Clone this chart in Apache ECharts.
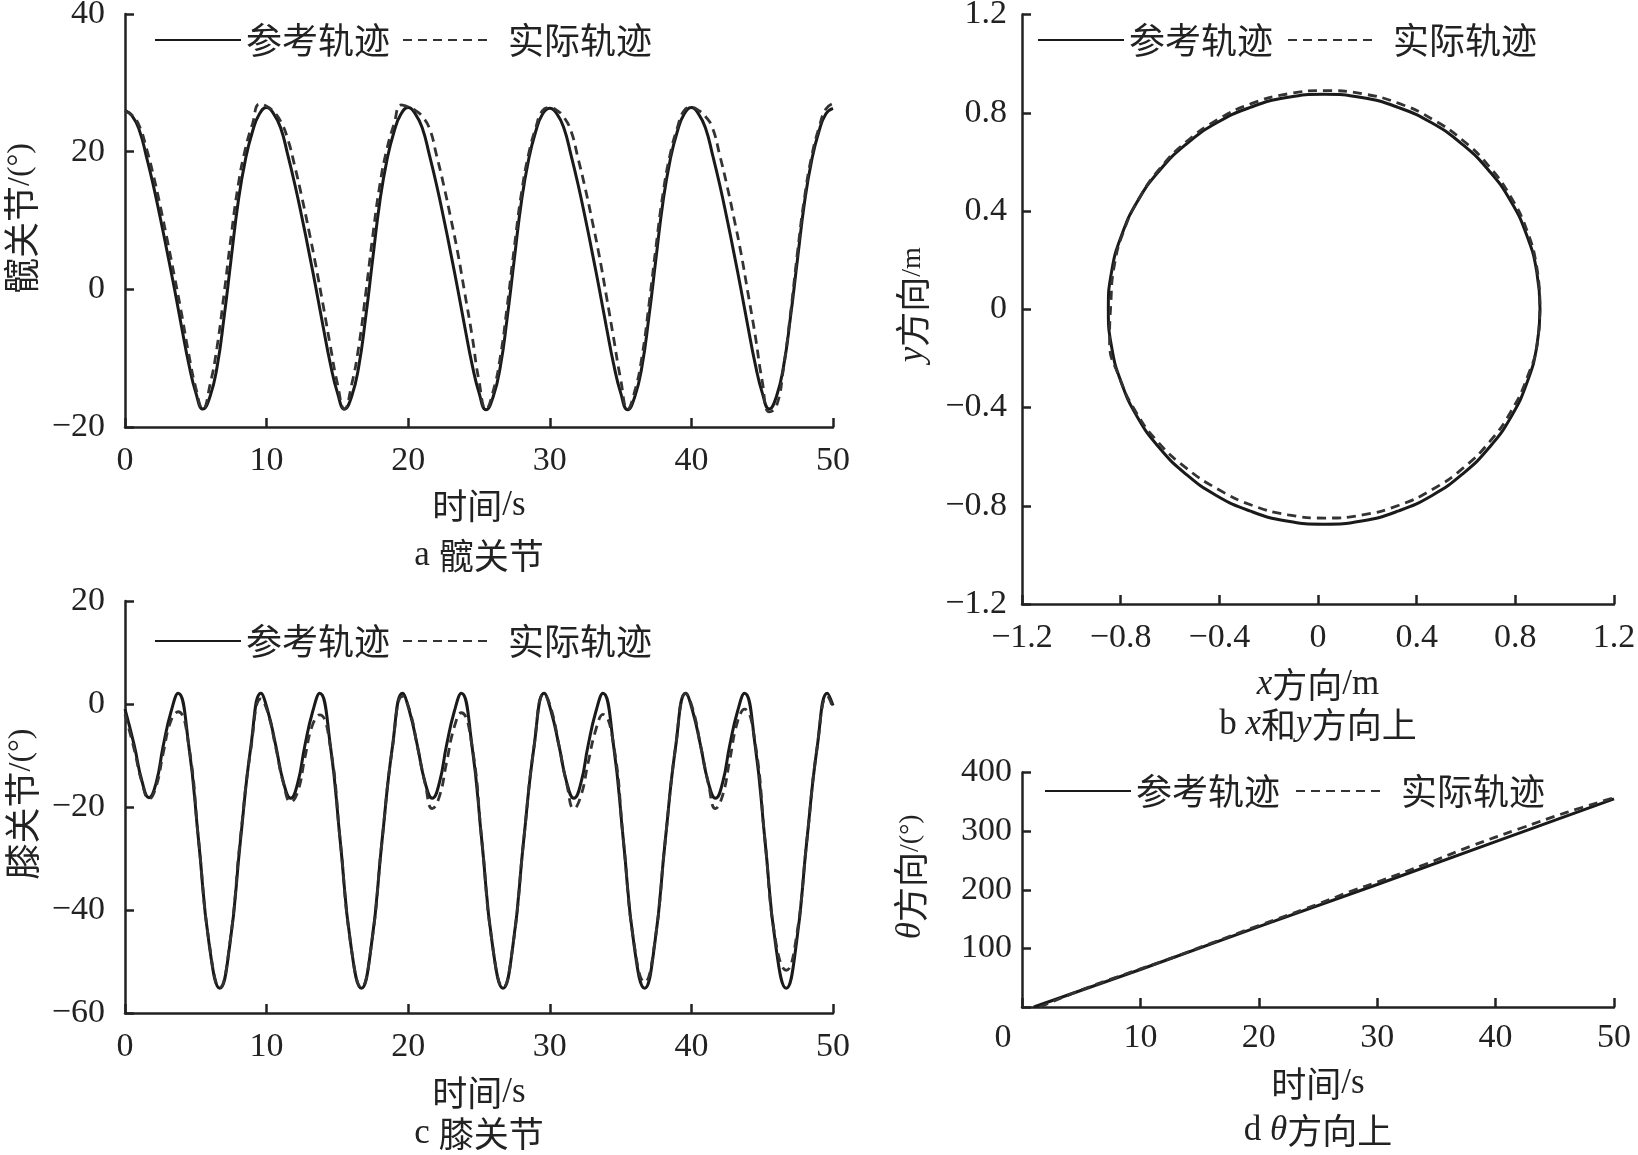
<!DOCTYPE html>
<html>
<head>
<meta charset="utf-8">
<script src="https://cdn.jsdelivr.net/npm/echarts@6/dist/echarts.min.js"></script>
<style>
html,body{margin:0;padding:0;background:#fff;}
#chart{width:1638px;height:1155px;}
</style>
</head>
<body>
<div id="chart"></div>
<script>
// ---------- data ----------
const hipTime = [
0,0.5,1,1.5,2,2.5,3,3.5,4,4.5,5,5.5,6,6.5,7,7.5,8,8.5,9,9.5,
10,10.5,11,11.5,12,12.5,13,13.5,14,14.5,15,15.5,16,16.5,17,17.5,18,18.5,19,19.5,
20,20.5,21,21.5,22,22.5,23,23.5,24,24.5,25,25.5,26,26.5,27,27.5,28,28.5,29,29.5,
30,30.5,31,31.5,32,32.5,33,33.5,34,34.5,35,35.5,36,36.5,37,37.5,38,38.5,39,39.5,
40,40.5,41,41.5,42,42.5,43,43.5,44,44.5,45,45.5,46,46.5,47,47.5,48,48.5,49,49.5,
50];
const hipRef = [
26.0,25.2,23.2,19.4,15.1,10.3,5.2,0.0,-5.5,-10.8,-15.0,-17.4,-15.6,-11.3,-4.0,4.5,12.8,18.8,22.9,25.5,
26.4,25.5,23.4,19.5,15.2,10.4,5.3,0.0,-5.5,-10.8,-15.0,-17.4,-15.6,-11.3,-4.0,4.5,12.8,18.8,22.9,25.5,
26.4,25.5,23.4,19.5,15.2,10.4,5.3,0.0,-5.5,-10.8,-15.0,-17.5,-15.6,-11.3,-4.0,4.5,12.8,18.8,22.9,25.5,
26.3,25.5,23.4,19.5,15.2,10.4,5.3,0.0,-5.5,-10.8,-15.0,-17.5,-15.6,-11.3,-4.0,4.5,12.8,18.8,22.9,25.5,
26.4,25.5,23.4,19.5,15.2,10.4,5.3,0.0,-5.5,-10.8,-15.0,-17.4,-15.6,-11.3,-4.0,4.5,12.8,18.8,22.9,25.5,
26.3];
const hipAct = [
25.9,25.3,23.8,20.6,16.6,12.0,7.0,1.8,-3.6,-9.4,-14.3,-17.4,-13.9,-8.4,-0.6,7.8,15.2,20.4,24.0,26.9,
26.6,25.8,24.4,21.8,17.8,13.3,8.4,3.2,-2.4,-8.2,-13.7,-17.4,-13.9,-8.4,-0.6,7.8,15.2,20.4,24.0,26.8,
26.5,26.0,25.1,23.4,19.5,15.2,10.4,5.3,-0.6,-6.6,-13.3,-17.4,-14.8,-9.9,-2.3,6.2,14.0,19.6,23.4,26.0,
26.4,26.0,25.0,23.0,19.0,14.7,9.9,4.8,-1.0,-7.0,-13.0,-17.4,-14.8,-9.9,-2.3,6.2,14.0,19.6,23.4,26.0,
26.4,26.0,25.1,23.4,19.5,15.2,10.4,5.3,-0.6,-6.6,-13.3,-17.8,-17.0,-11.5,-3.5,5.5,13.5,19.4,23.4,26.2,
27.0];

const kneeTime = [
0,0.65,1.2,1.7,2.2,2.7,3.25,3.75,4.5,5.2,5.95,6.7,7.4,8.15,8.9,9.6,
10.1,10.65,11.2,11.7,12.2,12.7,13.25,13.75,14.5,15.2,15.95,16.7,17.4,18.15,18.9,19.6,
20.1,20.65,21.2,21.7,22.2,22.7,23.25,23.75,24.5,25.2,25.95,26.7,27.4,28.15,28.9,29.6,
30.1,30.65,31.2,31.7,32.2,32.7,33.25,33.75,34.5,35.2,35.95,36.7,37.4,38.15,38.9,39.6,
40.1,40.65,41.2,41.7,42.2,42.7,43.25,43.75,44.5,45.2,45.95,46.7,47.4,48.15,48.9,49.6,
50];
const kneeRef = [
-1.0,-8.0,-15.0,-18.2,-15.3,-8.1,-1.5,2.1,-8.0,-26.6,-46.8,-55.2,-46.8,-26.6,-8.0,2.1,
-1.5,-8.1,-15.3,-18.3,-15.3,-8.1,-1.5,2.1,-8.0,-26.6,-46.8,-55.2,-46.8,-26.6,-8.0,2.1,
-1.5,-8.1,-15.3,-18.3,-15.3,-8.1,-1.5,2.1,-8.0,-26.6,-46.8,-55.2,-46.8,-26.6,-8.0,2.1,
-1.5,-8.1,-15.3,-18.3,-15.3,-8.1,-1.5,2.1,-8.0,-26.6,-46.8,-55.2,-46.8,-26.6,-8.0,2.1,
-1.5,-8.1,-15.3,-18.3,-15.3,-8.1,-1.5,2.1,-8.0,-26.6,-46.8,-55.2,-46.8,-26.6,-8.0,2.1,
-0.3];
const kneeAct = [
-2.0,-8.8,-15.2,-18.4,-16.0,-9.5,-3.2,-1.5,-8.0,-26.6,-46.5,-55.0,-46.5,-26.0,-8.5,1.0,
-1.8,-8.5,-15.5,-19.0,-17.0,-10.5,-4.0,-2.1,-8.3,-26.6,-46.8,-55.0,-46.8,-26.6,-8.2,1.5,
-1.2,-8.3,-15.5,-20.3,-18.0,-11.5,-4.5,-1.7,-8.0,-26.6,-46.8,-55.0,-46.8,-26.6,-8.0,2.0,
-1.0,-8.1,-15.5,-20.3,-17.8,-11.5,-5.0,-2.0,-7.8,-26.6,-46.5,-54.0,-46.5,-26.6,-8.0,2.0,
-1.0,-8.1,-15.5,-20.3,-17.8,-11.0,-3.5,-1.0,-7.5,-26.6,-46.0,-51.7,-45.5,-26.6,-8.0,1.5,
-0.8];

const circRefX = [0.900,0.887,0.847,0.783,0.695,0.587,0.4625,0.324,0.177,0.025,-0.127,-0.274,-0.4125,-0.537,-0.645,-0.733,-0.797,-0.837,-0.850,-0.837,-0.797,-0.733,-0.645,-0.537,-0.4125,-0.274,-0.127,0.025,0.177,0.324,0.4625,0.587,0.695,0.783,0.847,0.887,0.900];
const circRefY = [0,0.152,0.299,0.4375,0.562,0.670,0.758,0.822,0.862,0.875,0.862,0.822,0.758,0.670,0.562,0.4375,0.299,0.152,0,-0.152,-0.299,-0.4375,-0.562,-0.670,-0.758,-0.822,-0.862,-0.875,-0.862,-0.822,-0.758,-0.670,-0.562,-0.4375,-0.299,-0.152,0];
const circActX = [0.900,0.887,0.848,0.783,0.696,0.589,0.465,0.328,0.181,0.030,-0.121,-0.268,-0.405,-0.529,-0.636,-0.723,-0.788,-0.827,-0.840,-0.845,-0.805,-0.740,-0.650,-0.535,-0.405,-0.268,-0.121,0.030,0.181,0.328,0.465,0.589,0.696,0.783,0.848,0.890,0.900];
const circActY = [0.020,0.171,0.318,0.455,0.579,0.686,0.773,0.838,0.877,0.890,0.877,0.838,0.773,0.686,0.579,0.455,0.318,0.171,0.020,-0.131,-0.278,-0.415,-0.539,-0.646,-0.733,-0.798,-0.837,-0.850,-0.837,-0.798,-0.733,-0.646,-0.539,-0.415,-0.278,-0.131,0.020];

const thetaRefT = [1,10,20,30,40,50];
const thetaRef = [0,64,137,209,282,355];
const thetaActT = [1.5,5,8,12,16,20,24,28,30,34,38,42,46,50];
const thetaAct = [0,29,51,79,109,139,168,199,213,243,275,304,332,357];

const timeTicks = {min:0, max:50, interval:10};
const hipTicks = {min:-20, max:40, interval:20};
const kneeTicks = {min:-60, max:20, interval:20};
const xyTicks = {min:-1.2, max:1.2, interval:0.4};
const thetaTicks = {min:0, max:400, interval:100};

// ---------- helpers ----------
const zip = (xs, ys) => xs.map((x, i) => [x, ys[i]]);
const SERIF = 'Liberation Serif';
const CJK = 'Noto Sans CJK SC';
const INK = '#222';
const minus = s => String(s).replace('-', '\u2212');

const rich = {
  m: {fontFamily: CJK, fontSize: 35, color: INK},
  s: {fontFamily: SERIF, fontSize: 28, color: INK},
  t: {fontFamily: SERIF, fontSize: 35, color: INK},
  i: {fontFamily: SERIF, fontSize: 35, fontStyle: 'italic', color: INK}
};
const richJoint = {
  m: {fontFamily: CJK, fontSize: 36, color: INK},
  s: {fontFamily: SERIF, fontSize: 32, color: INK}
};
function richLH(lh) {
  const r = {};
  for (const k in rich) r[k] = Object.assign({}, rich[k], {lineHeight: lh});
  return r;
}

function axisBase(ticks, labelMargin, fmt) {
  return {
    type: 'value', min: ticks.min, max: ticks.max, interval: ticks.interval,
    axisLine: {show: true, onZero: false, lineStyle: {color: INK, width: 2.5}},
    axisTick: {show: true, inside: true, length: 9, lineStyle: {color: INK, width: 2.5}},
    splitLine: {show: false},
    axisLabel: {fontFamily: SERIF, fontSize: 34, color: INK, margin: labelMargin, formatter: fmt || (v => minus(v)),
      rich: {z: {fontFamily: SERIF, fontSize: 34, color: INK, padding: [0, 38, 0, 0]}}}
  };
}

const grids = [
  {left: 125, top: 14, width: 708, height: 413},
  {left: 1022, top: 14.5, width: 592, height: 589.5},
  {left: 125, top: 601, width: 708, height: 412},
  {left: 1022, top: 772.5, width: 592, height: 234.5}
].map(g => Object.assign(g, {containLabel: false, outerBoundsMode: 'none'}));

const fmtXY = v => (Math.abs(v) < 1e-9 ? '0' : minus(v.toFixed(1)));

const xAxes = [
  Object.assign(axisBase(timeTicks, 17), {gridIndex: 0, name: '{m|时间}{t|/s}\n{t|a }{m|髋关节}', nameLocation: 'middle', nameGap: 54, nameTextStyle: {rich: richLH(50)}}),
  Object.assign(axisBase(xyTicks, 17, fmtXY), {gridIndex: 1, name: '{i|x}{m|方向}{t|/m}\n{t|b }{i|x}{m|和}{i|y}{m|方向上}', nameLocation: 'middle', nameGap: 61, nameTextStyle: {rich: richLH(40)}}),
  Object.assign(axisBase(timeTicks, 17), {gridIndex: 2, name: '{m|时间}{t|/s}\n{t|c }{m|膝关节}', nameLocation: 'middle', nameGap: 59, nameTextStyle: {rich: richLH(41)}}),
  Object.assign(axisBase(timeTicks, 14, v => (v === 0 ? '{z|0}' : String(v))), {gridIndex: 3, name: '{m|时间}{t|/s}\n{t|d }{i|θ}{m|方向上}', nameLocation: 'middle', nameGap: 53, nameTextStyle: {rich: richLH(47)}})
];
const yAxes = [
  Object.assign(axisBase(hipTicks, 20), {gridIndex: 0, name: '{m|髋关节}{s|/(°)}', nameLocation: 'middle', nameGap: 86, nameTextStyle: {rich: richJoint, padding: [0, 0, 0, 4]}}),
  Object.assign(axisBase(xyTicks, 15, fmtXY), {gridIndex: 1, name: '{i|y}{m|方向}{s|/m}', nameLocation: 'middle', nameGap: 92, nameTextStyle: {rich: rich, padding: [0, 0, 0, 9]}}),
  Object.assign(axisBase(kneeTicks, 20), {gridIndex: 2, name: '{m|膝关节}{s|/(°)}', nameLocation: 'middle', nameGap: 85, nameTextStyle: {rich: richJoint, padding: [0, 0, 0, 6]}}),
  Object.assign(axisBase(thetaTicks, 10, v => (v === 0 ? '' : String(v))), {gridIndex: 3, name: '{i|θ}{m|方向}{s|/(°)}', nameLocation: 'middle', nameGap: 94, nameTextStyle: {rich: rich, padding: [0, 0, 0, 26]}})
];

function ser(name, idx, data, dashed, smooth) {
  return {
    name: name, type: 'line', xAxisIndex: idx, yAxisIndex: idx, data: data,
    symbol: 'none', smooth: smooth, animation: false,
    itemStyle: {color: dashed ? '#333' : '#1a1a1a'},
    lineStyle: {color: dashed ? '#333' : '#1a1a1a', width: dashed ? 2.8 : 3, type: dashed ? [9, 6] : 'solid'}
  };
}
const REF = '参考轨迹', ACT = '实际轨迹';
const series = [
  ser(REF, 0, zip(hipTime, hipRef), false, 0.5),
  ser(ACT, 0, zip(hipTime, hipAct), true, 0.5),
  ser(REF, 1, zip(circRefX, circRefY), false, 0.5),
  ser(ACT, 1, zip(circActX, circActY), true, 0.5),
  ser(REF, 2, zip(kneeTime, kneeRef), false, 0.5),
  ser(ACT, 2, zip(kneeTime, kneeAct), true, 0.5),
  ser(REF, 3, zip(thetaRefT, thetaRef), false, false),
  ser(ACT, 3, zip(thetaActT, thetaAct), true, 0.4)
];

function leg(name, left, centerY, padLeft) {
  return {
    data: [name], left: left, top: centerY - 18, padding: 0, itemWidth: 86, itemHeight: 20,
    selectedMode: false,
    itemStyle: {opacity: 0},
    textStyle: {fontFamily: CJK, fontSize: 36, color: INK, padding: [0, 0, 0, padLeft]}
  };
}
const legends = [
  leg(REF, 154, 40, 0), leg(ACT, 402, 40, 14),
  leg(REF, 1037, 40, 0), leg(ACT, 1287, 40, 14),
  leg(REF, 154, 641, 0), leg(ACT, 402, 641, 14),
  leg(REF, 1044, 791, 0), leg(ACT, 1295, 791, 14)
];

const chart = echarts.init(document.getElementById('chart'), null, {renderer: 'canvas'});
chart.setOption({
  backgroundColor: '#fff',
  animation: false,
  grid: grids,
  xAxis: xAxes,
  yAxis: yAxes,
  legend: legends,
  series: series
});
</script>
</body>
</html>
